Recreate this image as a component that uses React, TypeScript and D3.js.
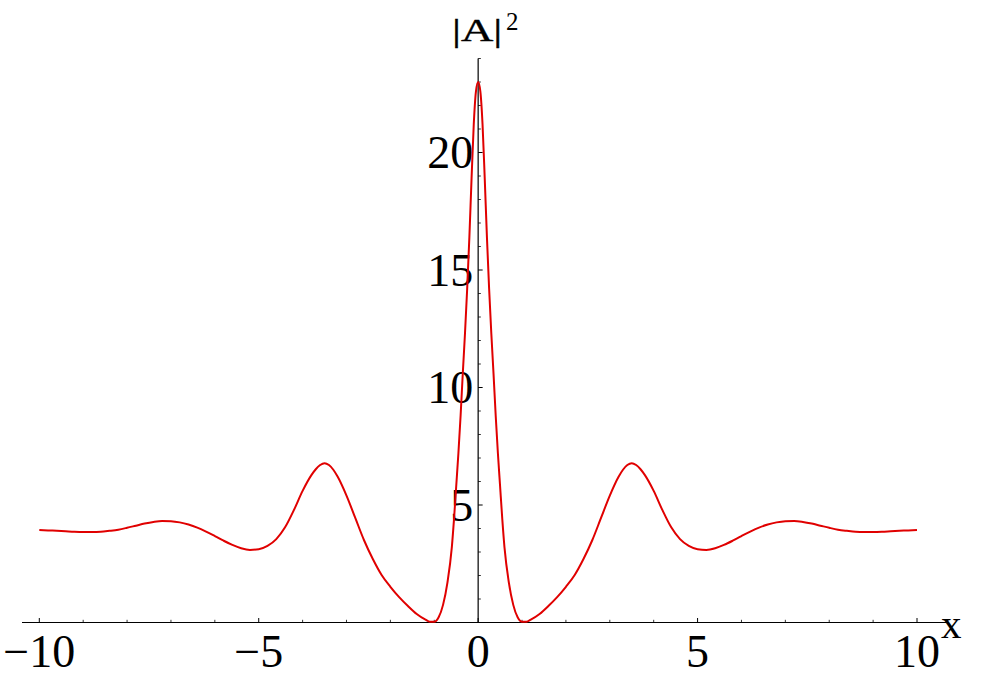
import React, { useEffect, useRef } from "react";
import * as d3 from "d3";

// x positions and |A|^2 values
const xs: number[] = [
  -10, -9.8, -9.6, -9.4, -9.2, -9, -8.8, -8.6, -8.4, -8.2, -8, -7.8, -7.6, -7.4, -7.2, -7, -6.8, -6.6, -6.4, -6.2,
  -6, -5.8, -5.6, -5.4, -5.2, -5, -4.8, -4.6, -4.4, -4.2, -4, -3.8, -3.7, -3.6, -3.5, -3.4, -3.3, -3.2, -3, -2.8,
  -2.6, -2.4, -2.2, -2, -1.8, -1.6, -1.4, -1.2, -1.1, -1, -0.9, -0.8, -0.7, -0.6, -0.55, -0.5, -0.45, -0.4, -0.35,
  -0.3, -0.25, -0.2, -0.15, -0.1, -0.05, 0,
  0.05, 0.1, 0.15, 0.2, 0.25, 0.3, 0.35, 0.4, 0.45, 0.5, 0.55, 0.6, 0.7, 0.8, 0.9, 1, 1.1, 1.2, 1.4, 1.6, 1.8, 2,
  2.2, 2.4, 2.6, 2.8, 3, 3.2, 3.3, 3.4, 3.5, 3.6, 3.7, 3.8, 4, 4.2, 4.4, 4.6, 4.8, 5, 5.2, 5.4, 5.6, 5.8, 6, 6.2,
  6.4, 6.6, 6.8, 7, 7.2, 7.4, 7.6, 7.8, 8, 8.2, 8.4, 8.6, 8.8, 9, 9.2, 9.4, 9.6, 9.8, 10,
];
const ys: number[] = [
  3.94, 3.92, 3.9, 3.88, 3.86, 3.85, 3.85, 3.86, 3.9, 3.95, 4.03, 4.12, 4.21, 4.28, 4.32, 4.31, 4.26, 4.17, 4.04, 3.87,
  3.68, 3.48, 3.3, 3.16, 3.09, 3.12, 3.26, 3.55, 4.05, 4.78, 5.6, 6.27, 6.52, 6.7, 6.78, 6.7, 6.5, 6.2, 5.4, 4.45,
  3.5, 2.7, 2.02, 1.52, 1.08, 0.7, 0.36, 0.12, 0.03, 0.03, 0.22, 0.75, 1.7, 3.2, 4.4, 5.8, 7.2, 8.8, 10.6,
  12.3, 14.2, 16.4, 18.9, 21.2, 22.6, 23.0,
  22.6, 21.2, 18.9, 16.4, 14.2, 12.3, 10.6, 8.8, 7.2, 5.8, 4.4, 3.2, 1.7, 0.75, 0.22, 0.03, 0.03, 0.12, 0.36, 0.7, 1.08, 1.52,
  2.02, 2.7, 3.5, 4.45, 5.4, 6.2, 6.5, 6.7, 6.78, 6.7, 6.52, 6.27, 5.6, 4.78, 4.05, 3.55, 3.26, 3.12, 3.09, 3.16, 3.3, 3.48, 3.68, 3.87,
  4.04, 4.17, 4.26, 4.31, 4.32, 4.28, 4.21, 4.12, 4.03, 3.95, 3.9, 3.86, 3.85, 3.85, 3.86, 3.88, 3.9, 3.92, 3.94,
];

const xMajorTicks: number[] = [-10, -5, 0, 5, 10];
const xTickLabels: string[] = ["\u221210", "\u22125", "0", "5", "10"];
const xMinorTicks: number[] = [-9, -8, -7, -6, -4, -3, -2, -1, 1, 2, 3, 4, 6, 7, 8, 9];
const yMajorTicks: number[] = [5, 10, 15, 20];
const yTickLabels: string[] = ["5", "10", "15", "20"];
const yMinorTicks: number[] = [1, 2, 3, 4, 6, 7, 8, 9, 11, 12, 13, 14, 16, 17, 18, 19, 21, 22, 23, 24];

const W = 1000;
const H = 679;

export default function App() {
  const ref = useRef<SVGSVGElement | null>(null);

  useEffect(() => {
    document.body.style.margin = "0";
    const svg = d3.select(ref.current);
    svg.selectAll("*").remove();

    const x = d3.scaleLinear().domain([-10, 10]).range([39.3, 917]);
    const y = d3.scaleLinear().domain([0, 24]).range([622.5, 58.5]);
    const font = "'Liberation Serif', 'Times New Roman', serif";

    const x0 = x(0);
    const y0 = y(0);

    // x axis
    svg.append("line")
      .attr("x1", 22).attr("x2", 948).attr("y1", y0).attr("y2", y0)
      .attr("stroke", "#000").attr("stroke-width", 1.2);
    // y axis
    svg.append("line")
      .attr("x1", x0).attr("x2", x0).attr("y1", y(24)).attr("y2", y0)
      .attr("stroke", "#000").attr("stroke-width", 1.2);

    // x ticks
    svg.selectAll(".xmaj").data(xMajorTicks).enter().append("line")
      .attr("x1", (d) => x(d)).attr("x2", (d) => x(d))
      .attr("y1", y0).attr("y2", y0 - 4.5)
      .attr("stroke", "#000").attr("stroke-width", 1);
    svg.selectAll(".xmin").data(xMinorTicks).enter().append("line")
      .attr("x1", (d) => x(d)).attr("x2", (d) => x(d))
      .attr("y1", y0).attr("y2", y0 - 2.7)
      .attr("stroke", "#000").attr("stroke-width", 0.8);

    // y ticks
    svg.selectAll(".ymaj").data(yMajorTicks).enter().append("line")
      .attr("x1", x0).attr("x2", x0 + 4.5)
      .attr("y1", (d) => y(d)).attr("y2", (d) => y(d))
      .attr("stroke", "#000").attr("stroke-width", 1);
    svg.selectAll(".ymin").data(yMinorTicks).enter().append("line")
      .attr("x1", x0).attr("x2", x0 + 2.7)
      .attr("y1", (d) => y(d)).attr("y2", (d) => y(d))
      .attr("stroke", "#000").attr("stroke-width", 0.8);

    // x tick labels
    svg.selectAll(".xlab").data(xMajorTicks).enter().append("text")
      .attr("x", (d) => x(d)).attr("y", 667)
      .attr("text-anchor", "middle")
      .attr("font-family", font).attr("font-size", 46)
      .attr("fill", "#000")
      .text((d, i) => xTickLabels[i]);

    // y tick labels
    svg.selectAll(".ylab").data(yMajorTicks).enter().append("text")
      .attr("x", x0 - 5).attr("y", (d) => y(d) + 15.5)
      .attr("text-anchor", "end")
      .attr("font-family", font).attr("font-size", 46)
      .attr("fill", "#000")
      .text((d, i) => yTickLabels[i]);

    // axis labels
    svg.append("text")
      .attr("x", 941).attr("y", 638)
      .attr("font-family", font).attr("font-size", 41)
      .attr("fill", "#000")
      .text("x");

    svg.append("text")
      .attr("transform", "translate(452,41) scale(1.4,1)")
      .attr("font-family", font).attr("font-size", 32)
      .attr("fill", "#000")
      .attr("stroke", "#000").attr("stroke-width", 0.4)
      .text("|A|");
    svg.append("text")
      .attr("x", 506).attr("y", 30)
      .attr("font-family", font).attr("font-size", 25)
      .attr("fill", "#000")
      .text("2");

    // curve
    const pts: [number, number][] = xs.map((d, i) => [d, ys[i]]);
    const line = d3.line<[number, number]>()
      .x((d) => x(d[0]))
      .y((d) => y(d[1]))
      .curve(d3.curveMonotoneX);
    svg.append("path")
      .attr("d", line(pts) as string)
      .attr("fill", "none")
      .attr("stroke", "#e00000")
      .attr("stroke-width", 2);
  }, []);

  return (
    <svg
      ref={ref}
      width={W}
      height={H}
      style={{ position: "absolute", left: 0, top: 0, background: "#fff" }}
    />
  );
}
